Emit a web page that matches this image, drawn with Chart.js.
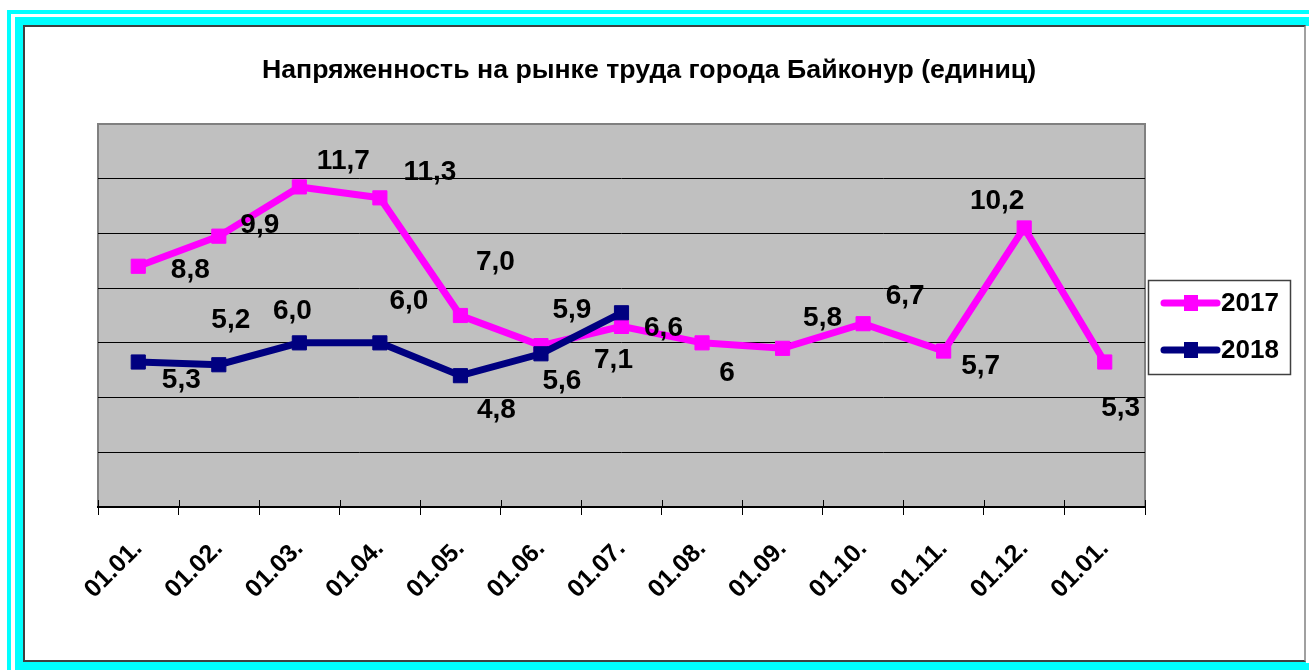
<!DOCTYPE html>
<html>
<head>
<meta charset="utf-8">
<script src="https://cdn.jsdelivr.net/npm/chart.js@4.4.0/dist/chart.umd.min.js"></script>
<style>
  body { margin: 0; width: 1309px; height: 670px; overflow: hidden; background: #fff; position: relative; }
  .f { position: absolute; }
  #c1 { left: 7px; top: 10px; right: 0; bottom: 0; background: #00ffff; }
  #w1 { left: 11px; top: 14px; right: 0; bottom: 0; background: #fff; }
  #c2 { left: 15px; top: 17px; right: 0; bottom: 0; background: #00ffff; }
  #wr { left: 1306px; top: 26px; width: 3px; height: 637px; background: #fff; }
  #panel { left: 23px; top: 25px; width: 1279px; height: 633px; background: #fff;
           border-left: 2px solid #404040; border-top: 2px solid #404040;
           border-bottom: 2px solid #404040; border-right: 2px solid #a0a0a0; }
  canvas { position: absolute; left: 0; top: 0; }
</style>
</head>
<body>
<div class="f" id="c1"></div>
<div class="f" id="w1"></div>
<div class="f" id="c2"></div>
<div class="f" id="wr"></div>
<div class="f" id="panel"></div>
<canvas id="lineChart" width="1309" height="670"></canvas>
<script>
var FONT = '"Liberation Sans", Arial, sans-serif';

var titleText = "Напряженность на рынке труда города Байконур (единиц)";
var categories = ["01.01.", "01.02.", "01.03.", "01.04.", "01.05.", "01.06.", "01.07.",
                  "01.08.", "01.09.", "01.10.", "01.11.", "01.12.", "01.01."];
var values2017 = [8.8, 9.9, 11.7, 11.3, 7.0, 5.9, 6.6, 6, 5.8, 6.7, 5.7, 10.2, 5.3];
var values2018 = [5.3, 5.2, 6.0, 6.0, 4.8, 5.6, 7.1];
var decimals2017 = [1, 1, 1, 1, 1, 1, 1, 0, 1, 1, 1, 1, 1];
var decimals2018 = [1, 1, 1, 1, 1, 1, 1];
var yMin = 0, yMax = 14, yStep = 2;

// where each value label sits relative to its point, in px
var shift2017 = [[52, 4], [41, -11], [44, -26], [50, -26], [35, -53], [31, -35], [42, 2],
                 [25, 30], [40, -30], [42, -27], [37, 15], [-27, -27], [16, 46]];
var shift2018 = [[43, 18], [12, -44], [-7, -32], [29, -42], [36, 35], [21, 27], [-8, 48]];

// grey plot area with its border
var plotBg = {
	id: 'plotBg',
	beforeDraw: function(chart) {
		var ctx = chart.ctx, a = chart.chartArea;
		ctx.save();
		ctx.fillStyle = '#c0c0c0';
		ctx.fillRect(a.left, a.top, a.right - a.left, a.bottom - a.top);
		ctx.strokeStyle = '#808080';
		ctx.lineWidth = 2;
		ctx.beginPath();
		ctx.moveTo(a.left, a.bottom);
		ctx.lineTo(a.left, a.top);
		ctx.lineTo(a.right, a.top);
		ctx.lineTo(a.right, a.bottom);
		ctx.stroke();
		ctx.restore();
	},
	beforeDatasetsDraw: function(chart) {
		// cross tick marks: the part above the axis line
		var ctx = chart.ctx, x = chart.scales.x, a = chart.chartArea;
		ctx.save();
		ctx.strokeStyle = '#000';
		ctx.lineWidth = 1;
		for (var i = 0; i <= categories.length; i++) {
			var px = Math.round(x.getPixelForValue(i - 0.5)) + 0.5;
			ctx.beginPath();
			ctx.moveTo(px, a.bottom - 7);
			ctx.lineTo(px, a.bottom);
			ctx.stroke();
		}
		ctx.restore();
	}
};

var valueLabels = {
	id: 'valueLabels',
	afterDatasetsDraw: function(chart) {
		var ctx = chart.ctx;
		ctx.save();
		ctx.font = 'bold 28px ' + FONT;
		ctx.fillStyle = '#000';
		ctx.textAlign = 'center';
		ctx.textBaseline = 'middle';
		chart.data.datasets.forEach(function(ds, k) {
			var meta = chart.getDatasetMeta(k);
			meta.data.forEach(function(pt, i) {
				var v = ds.data[i];
				if (v == null) return;
				var s = ds.labelShift[i];
				ctx.fillText(v.toFixed(ds.decimals[i]).replace('.', ','), pt.x + s[0], pt.y + s[1]);
			});
		});
		ctx.restore();
	}
};

var titleAndLegend = {
	id: 'titleAndLegend',
	afterDraw: function(chart) {
		var ctx = chart.ctx;
		ctx.save();
		ctx.font = 'bold 26.7px ' + FONT;
		ctx.fillStyle = '#000';
		ctx.textAlign = 'center';
		ctx.textBaseline = 'alphabetic';
		ctx.fillText(titleText, 649, 78);

		ctx.strokeStyle = '#404040';
		ctx.lineWidth = 1.5;
		ctx.strokeRect(1148.5, 280.5, 142, 94);
		ctx.textBaseline = 'middle';
		chart.data.datasets.forEach(function(ds, k) {
			var y = 303 + k * 47;
			ctx.strokeStyle = ds.borderColor;
			ctx.lineWidth = 7;
			ctx.lineCap = 'round';
			ctx.beginPath();
			ctx.moveTo(1164, y);
			ctx.lineTo(1217, y);
			ctx.stroke();
			ctx.fillStyle = ds.borderColor;
			ctx.fillRect(1184, y - 8, 14, 16);
			ctx.fillStyle = '#000';
			ctx.font = 'bold 26px ' + FONT;
			ctx.textAlign = 'left';
			ctx.fillText(ds.label, 1221, y + 1);
		});
		ctx.restore();
	}
};

var lineData = {
	labels: categories,
	datasets: [
	{
		label: "2017",
		data: values2017,
		borderColor: "#ff00ff",
		backgroundColor: "#ff00ff",
		decimals: decimals2017,
		labelShift: shift2017,
		order: 1
	},
	{
		label: "2018",
		data: values2018,
		borderColor: "#000080",
		backgroundColor: "#000080",
		decimals: decimals2018,
		labelShift: shift2018,
		order: 0
	}
	]
};

var lineOptions = {
	responsive: false,
	animation: false,
	layout: { padding: { left: 98, right: 164, top: 124, bottom: 0 } },
	elements: {
		line: { borderWidth: 7, tension: 0, borderJoinStyle: 'miter' },
		point: { pointStyle: 'rect', radius: 10, borderWidth: 1, hoverRadius: 10 }
	},
	plugins: {
		legend: { display: false },
		title: { display: false },
		tooltip: { enabled: false }
	},
	scales: {
		x: {
			offset: true,
			grid: { offset: true, drawOnChartArea: false, tickLength: 8, color: '#000', lineWidth: 1 },
			border: { color: '#000', width: 2 },
			ticks: {
				minRotation: 45, maxRotation: 45, padding: 19, color: '#000',
				font: { family: FONT, size: 25, weight: 'bold' }
			},
			afterFit: function(s) { s.height = 670 - 507; }
		},
		y: {
			min: yMin, max: yMax,
			ticks: { stepSize: yStep, display: false },
			grid: {
				drawTicks: false, lineWidth: 1,
				color: function(c) { return c.tick && c.tick.value === yMax ? 'rgba(0,0,0,0)' : '#000'; }
			},
			border: { display: false },
			afterFit: function(s) { s.width = 0; }
		}
	}
};

var ctx1 = document.getElementById("lineChart").getContext("2d");
new Chart(ctx1, { type: 'line', data: lineData, options: lineOptions, plugins: [plotBg, valueLabels, titleAndLegend] });
</script>
</body>
</html>
